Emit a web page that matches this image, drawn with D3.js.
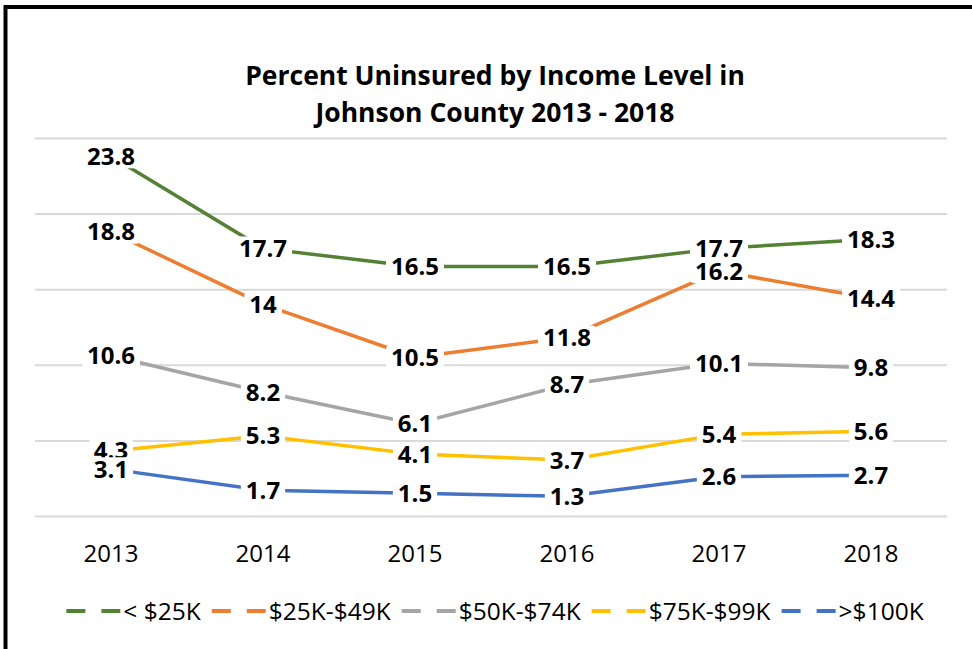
<!DOCTYPE html>
<html>
<head>
<meta charset="utf-8">
<script src="https://cdn.jsdelivr.net/npm/d3@7"></script>
<style>
  html, body { margin: 0; padding: 0; background: #fff; }
  svg { display: block; font-family: "Open Sans", "Noto Sans", sans-serif; }
</style>
</head>
<body>
<svg id="chart" width="972" height="649"></svg>
<script>
const years = ["2013", "2014", "2015", "2016", "2017", "2018"];
const seriesNames = ["< $25K", "$25K-$49K", "$50K-$74K", "$75K-$99K", ">$100K"];
const seriesColors = ["#548235", "#ED7D31", "#A5A5A5", "#FFC000", "#4472C4"];
const lt25 = [23.8, 17.7, 16.5, 16.5, 17.7, 18.3];
const k25to49 = [18.8, 14, 10.5, 11.8, 16.2, 14.4];
const k50to74 = [10.6, 8.2, 6.1, 8.7, 10.1, 9.8];
const k75to99 = [4.3, 5.3, 4.1, 3.7, 5.4, 5.6];
const gt100 = [3.1, 1.7, 1.5, 1.3, 2.6, 2.7];
const yTicks = [0, 5, 10, 15, 20, 25];
const titleLines = ["Percent Uninsured by Income Level in", "Johnson County 2013 - 2018"];

const seriesValues = [lt25, k25to49, k50to74, k75to99, gt100];
const series = seriesNames.map((name, i) => ({
  name, color: seriesColors[i],
  values: years.map((yr, j) => ({ year: yr, value: seriesValues[i][j] }))
}));

const svg = d3.select("#chart");
const plot = { left: 35, right: 947, top: 138, bottom: 516 };

const x = d3.scaleBand().domain(years).range([plot.left, plot.right]);
const y = d3.scaleLinear().domain([0, 25]).range([plot.bottom, plot.top]);
const cx = d => x(d) + x.bandwidth() / 2;

// Border frame
svg.append("rect")
  .attr("x", 5.5).attr("y", 7).attr("width", 1000).attr("height", 700)
  .attr("fill", "none").attr("stroke", "#000").attr("stroke-width", 4);

// Title
svg.append("g").selectAll("text").data(titleLines).join("text")
  .attr("x", 495).attr("y", (d, i) => 85 + i * 37)
  .attr("text-anchor", "middle")
  .attr("font-size", 26.5).attr("font-weight", 700).attr("fill", "#000")
  .text(d => d);

// Gridlines via axis
const yAxis = d3.axisLeft(y).tickValues(yTicks).tickSize(-(plot.right - plot.left)).tickFormat("");
const gy = svg.append("g").attr("transform", `translate(${plot.left},0)`).call(yAxis);
gy.select(".domain").remove();
gy.selectAll(".tick line").attr("stroke", "#D9D9D9").attr("stroke-width", 2);

// X axis labels
const xAxis = d3.axisBottom(x).tickSize(0).tickPadding(0);
const gx = svg.append("g").attr("transform", `translate(0,${plot.bottom})`).call(xAxis);
gx.select(".domain").remove();
gx.selectAll(".tick text")
  .attr("font-size", 24).attr("font-family", "'Open Sans', sans-serif")
  .attr("fill", "#000").attr("dy", null).attr("y", 46);

// Lines
const line = d3.line().x(d => cx(d.year)).y(d => y(d.value));
svg.append("g").selectAll("path").data(series).join("path")
  .attr("d", d => line(d.values))
  .attr("fill", "none").attr("stroke", d => d.color)
  .attr("stroke-width", 3.5).attr("stroke-linejoin", "round");

// Data labels
const lg = svg.append("g");
series.forEach(s => {
  s.values.forEach(v => {
    const g = lg.append("g");
    const rect = g.append("rect").attr("fill", "#fff");
    const t = g.append("text")
      .attr("x", cx(v.year)).attr("y", y(v.value) + 8.5)
      .attr("text-anchor", "middle")
      .attr("font-size", 24).attr("font-weight", 700).attr("fill", "#000")
      .text(v.value);
    const bb = t.node().getBBox();
    rect.attr("x", bb.x - 5).attr("y", y(v.value) - 12)
      .attr("width", bb.width + 10).attr("height", 24).attr("rx", 4);
  });
});

// Legend
const legend = svg.append("g");
const legendY = 611;
const symW = 54, symGap = 3, itemGap = 11;
let items = [];
let xpos = 0;
seriesNames.forEach((name, i) => {
  const g = legend.append("g");
  g.append("line").attr("x1", 0).attr("x2", symW).attr("y1", 0).attr("y2", 0)
    .attr("stroke", seriesColors[i]).attr("stroke-width", 4)
    .attr("stroke-dasharray", "19,16");
  const t = g.append("text").attr("x", symW + symGap).attr("y", 8.5)
    .attr("font-size", 24.5).attr("fill", "#000").text(name);
  const w = symW + symGap + t.node().getComputedTextLength();
  items.push({ g, x: xpos });
  xpos += w + itemGap;
});
const totalW = xpos - itemGap;
const startX = 495 - totalW / 2;
items.forEach(it => it.g.attr("transform", `translate(${startX + it.x},${legendY})`));
</script>
</body>
</html>
